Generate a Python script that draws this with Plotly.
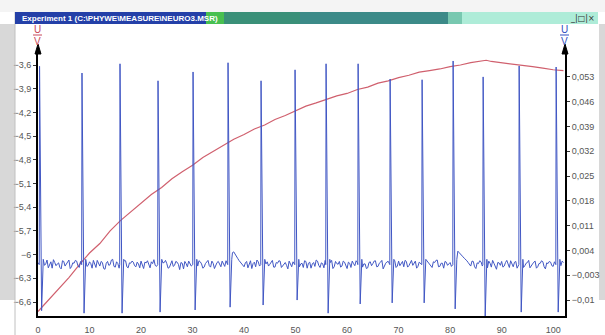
import plotly.graph_objects as go

# ---------------- data ----------------
# red curve (left axis, U/V)
red_x = [0, 2, 4, 6, 8, 10, 12, 14, 16, 18, 20, 22, 24, 26, 28, 30, 32, 34, 36, 38,
         40, 42, 44, 46, 48, 50, 52, 54, 56, 58, 60, 62, 64, 66, 68, 70, 72, 74, 76, 78,
         80, 82, 84, 86, 87, 88, 90, 92, 94, 96, 98, 100, 102]
red_y = [-6.72, -6.58, -6.43, -6.29, -6.13, -5.98, -5.86, -5.70, -5.57, -5.46, -5.35, -5.24,
         -5.15, -5.04, -4.95, -4.87, -4.77, -4.69, -4.62, -4.54, -4.48, -4.41, -4.36, -4.29,
         -4.24, -4.18, -4.12, -4.08, -4.03, -3.99, -3.96, -3.91, -3.88, -3.83, -3.80, -3.76,
         -3.73, -3.69, -3.67, -3.65, -3.62, -3.60, -3.57, -3.55, -3.54, -3.555, -3.57, -3.59,
         -3.60, -3.62, -3.64, -3.66, -3.67]

# blue signal (right axis, U/V): baseline samples (in 1/1000 V)
# samples at x = 0, 0.5, 1.0, ...
blue_noise_milli = [
    0.6, -0.4, 1.1, 0.2, -0.9, 0.8, 1.4, -0.3, 0.5, -1.2, 0.9, 0.1, 1.3, -0.6, 0.4, 1.0, -0.8, 0.7, 0.3, -0.5,
    0.8, -1.0, 0.2, 1.2, -0.4, 0.6, -1.3, 0.9, 0.0, 1.5, -0.7, 0.3, 0.9, -0.2, 1.1, -0.9, 0.4, 0.7, -0.6, 0.2,
    1.0, -1.1, 0.5, -0.3, 0.8, 1.4, -0.5, 0.2, -1.2, 0.6, 0.3, -0.8, 1.1, -0.2, 0.7, -1.4, 0.4, 0.9, -0.6, 0.1,
    0.5, 1.6, -0.4, 0.8, -1.0, 0.3, 1.2, -0.7, 0.4, -0.2, 0.9, -0.6, 0.3, 1.1, -0.8, 3.0, 3.6, 2.4, 1.2, 0.4,
    -0.6, 0.9, 0.2, -1.1, 0.7, 1.3, -0.4, 0.5, -0.9, 0.8, 0.1, 1.2, -0.7, 0.4, 1.0, -0.3, 0.6, -1.2, 0.3, 0.8,
    -0.5, 1.1, 0.2, -0.8, 0.9, 0.4, -1.0, 0.6, 1.3, -0.2, 0.5, -0.9, 0.8, 0.0, 1.2, -0.6, 0.3, 0.9, -0.4, 0.7,
    -1.1, 0.4, 1.0, -0.3, 0.6, 1.4, -0.7, 0.2, -0.9, 0.8, 0.3, 1.1, -0.5, 0.7, -1.2, 0.4, 0.9, -0.2, 0.5, -0.8,
    1.0, 0.2, -0.6, 0.9, -0.3, 1.2, 0.5, -1.0, 0.7, 0.1, -0.4, 1.1, 0.3, -0.8, 0.6, 1.3, -0.5, 0.4, 0.9, -0.2,
    0.6, -0.9, 3.2, 3.8, 2.9, 2.2, 1.5, 0.6, -0.4, 0.9, -1.1, 0.3, 0.8, -0.6, 0.2, 1.0, -0.7, 0.4, -1.3, 0.5,
    0.9, -0.4, 1.2, -0.8, 0.3, 0.7, -1.0, 0.5, 1.1, -0.3, 0.6, -0.9, 0.2, 1.0, -0.6, 0.4, 0.8, -1.2, 0.3, 0.7,
    -0.5, 1.1, 0.4, -0.3, 0.6,
]
# samples at x = 0.25, 0.75, 1.25, ...
blue_noise_mid_milli = [
    -0.7, 0.9, -0.2, 1.3, 0.1, -1.0, 0.6, 0.2, -0.8, 1.1, -0.4, 0.7, -1.1, 0.5, 1.2, -0.3, 0.9, -0.6, 1.0, -0.2,
    0.3, 1.2, -0.8, 0.6, 0.9, -1.1, 0.4, -0.2, 1.3, -0.5, 0.8, -1.0, 0.2, 1.1, -0.6, 0.5, 1.0, -0.3, 0.7, -0.9,
    -0.4, 0.7, 1.1, -0.9, 0.3, -0.2, 1.0, -0.7, 0.5, 1.2, -1.0, 0.4, -0.5, 0.9, 0.1, 0.6, -1.2, 0.3, 1.0, -0.4,
    0.8, -0.6, 1.1, 0.2, -0.7, 0.9, -0.3, 1.0, -1.1, 0.6, 0.2, 1.0, -0.5, 0.4, 1.8, 3.4, 3.1, 1.8, 0.7, -0.3,
    0.5, -0.9, 1.1, 0.3, -0.6, 0.8, -1.0, 1.2, 0.2, -0.4, 0.9, -0.7, 0.6, 1.1, -0.8, 0.4, -0.2, 1.0, -0.6, 0.3,
    0.9, -0.6, 0.4, 1.1, -1.0, 0.7, 0.2, -0.5, 1.0, -0.8, 0.3, 1.2, -0.4, 0.6, -1.1, 0.9, 0.1, -0.7, 1.0, -0.3,
    0.7, -0.8, 0.3, 1.1, -0.5, 0.9, 0.2, -1.1, 0.6, -0.3, 1.0, -0.6, 0.4, 1.2, -0.2, 0.8, -0.9, 0.5, 1.1, -0.4,
    -0.3, 0.9, 1.2, -0.7, 0.5, -0.2, 1.0, -0.5, 0.3, 1.1, -0.9, 0.6, -0.3, 0.8, 1.2, -0.6, 0.4, -1.0, 0.7, 0.2,
    -0.5, 1.0, 3.6, 3.4, 2.6, 1.8, 1.1, 0.2, 1.0, -0.6, 0.5, 1.1, -0.4, 0.7, -0.9, 0.4, 1.2, -0.8, 0.6, -0.2,
    -0.7, 0.6, 0.2, 1.1, -0.6, 0.9, -0.2, 1.0, -0.8, 0.4, 1.2, -0.5, 0.7, -1.0, 0.3, 1.1, -0.6, 0.5, 0.9, -0.3,
    0.8, -0.7, 0.2, 1.0,
]
blue_step = 0.5
# spikes: time, peak value and trough value (V)
spike_t = [0.3, 8.54, 15.92, 23.30, 30.10, 36.89, 43.30, 49.90, 55.92, 62.14, 68.35,
           74.56, 80.58, 86.41, 93.40, 100.58]
spike_top = [0.0560, 0.0541, 0.0567, 0.0519, 0.0544, 0.0570, 0.0519, 0.0550, 0.0567,
             0.0567, 0.0524, 0.0522, 0.0575, 0.0530, 0.0561, 0.0558]
spike_bottom = [-0.0130, -0.0137, -0.0137, -0.0134, -0.0128, -0.0120, -0.0114, -0.0100,
                -0.0137, -0.0111, -0.0108, -0.0108, -0.0125, -0.0146, -0.0134, -0.0134]

x_ticks = [0, 10, 20, 30, 40, 50, 60, 70, 80, 90, 100]
left_ticks = [-3.6, -3.9, -4.2, -4.5, -4.8, -5.1, -5.4, -5.7, -6.0, -6.3, -6.6]
right_ticks = [0.053, 0.046, 0.039, 0.032, 0.025, 0.018, 0.011, 0.004, -0.003, -0.01]

# ---------------- build blue trace from the lists ----------------
samples = [(i * blue_step, m) for i, m in enumerate(blue_noise_milli)]
samples += [(0.25 + i * blue_step, m) for i, m in enumerate(blue_noise_mid_milli)]
pts = []
for x, m in samples:
    if any(t - 0.1 <= x <= t + 0.8 for t in spike_t):
        continue
    pts.append((x, m / 1000.0))
for t, a, b in zip(spike_t, spike_top, spike_bottom):
    pts.append((t - 0.06, 0.0))
    pts.append((t, a))
    pts.append((t + 0.4, b))
    pts.append((t + 0.72, 0.0015))
pts.sort()
blue_x = [p[0] for p in pts]
blue_y = [p[1] for p in pts]

# ---------------- figure geometry ----------------
W, H = 605, 335
PX0, PX1, PY0, PY1 = 38, 565, 50, 316          # plot area in window pixels
L, R, T, B = PX0, W - PX1, PY0, H - PY1


def px(xw):
    return (xw - PX0) / (PX1 - PX0)


def py(yw):
    return (PY1 - yw) / (PY1 - PY0)


fig = go.Figure()
fig.add_trace(go.Scatter(x=red_x, y=red_y, mode="lines",
                         line=dict(color="#d0606e", width=1.2), yaxis="y", hoverinfo="skip"))
fig.add_trace(go.Scatter(x=blue_x, y=blue_y, mode="lines",
                         line=dict(color="#4157c4", width=1.0), yaxis="y2", hoverinfo="skip"))

tickfont = dict(family="Liberation Sans, Arial, sans-serif", size=9, color="#555555")

shapes = []
# window chrome
shapes.append(dict(type="rect", xref="paper", yref="paper", x0=px(0), x1=px(15), y0=py(300), y1=py(24),
                   fillcolor="#d8d8d8", line=dict(width=0), layer="below"))
shapes.append(dict(type="rect", xref="paper", yref="paper", x0=px(0), x1=px(605), y0=py(12), y1=py(0),
                   fillcolor="#f4f4f4", line=dict(width=0), layer="below"))
shapes.append(dict(type="rect", xref="paper", yref="paper", x0=px(599), x1=px(605), y0=py(300), y1=py(24),
                   fillcolor="#d8d8d8", line=dict(width=0), layer="below"))
shapes.append(dict(type="line", xref="paper", yref="paper", x0=px(15), x1=px(15), y0=py(335), y1=py(12),
                   line=dict(color="#c0c0c0", width=1)))
# title bar segments
bar = [(15, 206, "#2440a8"), (206, 224, "#48c050"), (224, 300, "#3a9078"), (300, 448, "#3c8a88"),
       (448, 462, "#78c8b0"), (462, 598, "#aeecd8")]
for x0, x1, c in bar:
    shapes.append(dict(type="rect", xref="paper", yref="paper", x0=px(x0), x1=px(x1), y0=py(24), y1=py(12),
                       fillcolor=c, line=dict(width=0)))
# axis arrows
for xa in (38, 565):
    shapes.append(dict(type="path", xref="paper", yref="paper",
                       path=f"M {px(xa)} {py(44)} L {px(xa - 3)} {py(54)} L {px(xa + 3)} {py(54)} Z",
                       fillcolor="black", line=dict(color="black", width=1)))
# fraction bars of U/V labels
shapes.append(dict(type="line", xref="paper", yref="paper", x0=px(33), x1=px(42), y0=py(35), y1=py(35),
                   line=dict(color="#c84858", width=1)))
shapes.append(dict(type="line", xref="paper", yref="paper", x0=px(560), x1=px(569), y0=py(35), y1=py(35),
                   line=dict(color="#3050c0", width=1)))

ann = []
ann.append(dict(xref="paper", yref="paper", x=px(20), y=py(18), xanchor="left", yanchor="middle",
                text="<b>Experiment 1 (C:\\PHYWE\\MEASURE\\NEURO3.MSR)</b>", showarrow=False,
                font=dict(family="Liberation Sans, Arial, sans-serif", size=8, color="white")))
ann.append(dict(xref="paper", yref="paper", x=px(597), y=py(18), xanchor="right", yanchor="middle",
                text="_|□|×", showarrow=False,
                font=dict(family="DejaVu Sans, sans-serif", size=8, color="#333333")))
for xa, col in [(37.5, "#c84858"), (564.5, "#3050c0")]:
    ann.append(dict(xref="paper", yref="paper", x=px(xa), y=py(30), xanchor="center", yanchor="middle",
                    text="U", showarrow=False, font=dict(family="Liberation Sans, Arial", size=10, color=col)))
    ann.append(dict(xref="paper", yref="paper", x=px(xa), y=py(41), xanchor="center", yanchor="middle",
                    text="V", showarrow=False, font=dict(family="Liberation Sans, Arial", size=10, color=col)))

fig.update_layout(
    width=W, height=H, margin=dict(l=L, r=R, t=T, b=B, pad=0, autoexpand=False),
    paper_bgcolor="white", plot_bgcolor="white", showlegend=False,
    separators=",.",
    xaxis=dict(range=[0, 102.3], tickvals=x_ticks, showgrid=False, zeroline=False, automargin=False,
               showline=True, linecolor="black", linewidth=2, ticks="outside", ticklen=4,
               tickcolor="rgba(0,0,0,0)", tickfont=tickfont),
    yaxis=dict(range=[-6.777, -3.410], tickvals=left_ticks, showgrid=False, zeroline=False,
               automargin=False, showline=True, linecolor="black", linewidth=2, ticks="outside",
               ticklen=3, tickcolor="#333333", tickfont=tickfont),
    yaxis2=dict(range=[-0.0145, 0.0606], tickvals=right_ticks, overlaying="y", side="right",
                automargin=False, showgrid=False, zeroline=False, showline=True, linecolor="black",
                linewidth=2, ticks="outside", ticklen=3, tickcolor="#333333", tickfont=tickfont),
    shapes=shapes, annotations=ann,
)

fig.write_html("out.html", config={"displayModeBar": False},
               post_script="document.body.style.margin='0';document.body.style.overflow='hidden';")
